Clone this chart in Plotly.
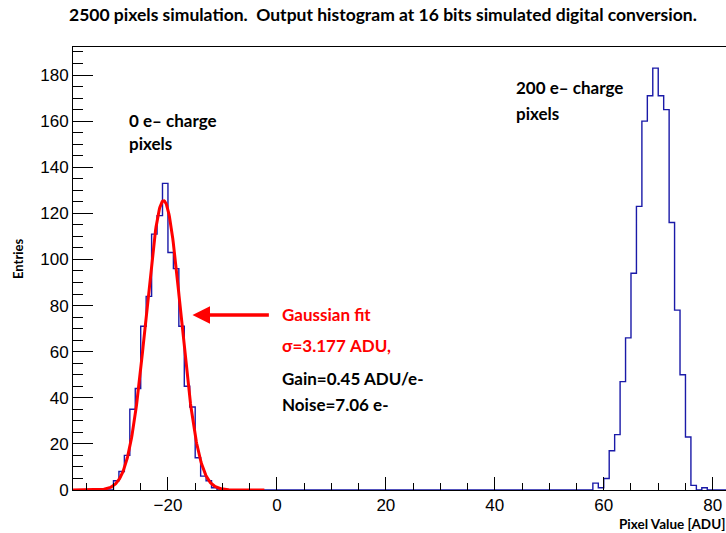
import numpy as np
import plotly.graph_objects as go

# ---------------- data ----------------
title_text = "2500 pixels simulation.  Output histogram at 16 bits simulated digital conversion."
x_title = "Pixel Value [ADU]"
y_title = "Entries"

hist_low_edge = -38          # histogram bins of 1 ADU
hist_high_edge = 83

zero_peak_first_bin = -30    # 0 e- charge pixels
zero_peak_counts = [4, 8, 15, 35, 44, 71, 84, 111, 119, 133, 103, 96, 71, 45, 36, 14, 6, 4, 1]

charge_peak_first_bin = 58   # 200 e- charge pixels
charge_peak_counts = [3, 1, 5, 17, 24, 47, 66, 94, 123, 160, 171, 183, 171, 165, 116, 78, 50, 23, 2, 0, 1]

fit_amplitude = 125.5
fit_mean = -20.8
fit_sigma = 3.177
fit_range = [-37.43, -2.3]

x_range = [-37.43, 82.44]
y_range = [0, 192.15]

# ---------------- build histogram ----------------
edges = np.arange(hist_low_edge, hist_high_edge + 1)
counts = np.zeros(len(edges) - 1)
for first, vals in ((zero_peak_first_bin, zero_peak_counts), (charge_peak_first_bin, charge_peak_counts)):
    for i, v in enumerate(vals):
        counts[first + i - hist_low_edge] = v

step_x = list(edges)
step_y = list(counts) + [counts[-1]]

fx = np.linspace(fit_range[0], fit_range[1], 400)
fy = fit_amplitude * np.exp(-0.5 * ((fx - fit_mean) / fit_sigma) ** 2)

fig = go.Figure()
fig.add_trace(go.Scatter(x=step_x, y=step_y, mode="lines", line=dict(shape="hv", color="#1a1aa8", width=1.4),
                         hoverinfo="skip", showlegend=False))
fig.add_trace(go.Scatter(x=fx, y=fy, mode="lines", line=dict(color="#ff0000", width=3),
                         hoverinfo="skip", showlegend=False))

# ---------------- layout ----------------
L, R, T, B = 73, 0, 47, 43
W, H = 726, 533
tick_font = dict(family="Liberation Sans, Arial, sans-serif", size=17, color="black")
bold_font = "Lato, sans-serif"

fig.update_layout(
    width=W, height=H, margin=dict(l=L, r=R, t=T, b=B),
    paper_bgcolor="white", plot_bgcolor="white", showlegend=False,
)
fig.update_xaxes(range=x_range, tickmode="linear", tick0=0, dtick=20,
                 ticks="inside", ticklen=13, tickcolor="black", tickwidth=1,
                 minor=dict(ticks="inside", ticklen=7, dtick=5, tick0=0, tickcolor="black"),
                 showgrid=False, zeroline=False, showline=True, linecolor="black", linewidth=1,
                 mirror=True, tickfont=tick_font)
fig.update_yaxes(range=y_range, tickmode="linear", tick0=0, dtick=20,
                 ticks="inside", ticklen=20, tickcolor="black", tickwidth=1,
                 minor=dict(ticks="inside", ticklen=10, dtick=5, tick0=0, tickcolor="black"),
                 showgrid=False, zeroline=False, showline=True, linecolor="black", linewidth=1,
                 mirror=False, tickfont=tick_font)

def px_to_paper(px, py):
    return (px - L) / (W - L - R), (H - B - py) / (H - T - B)

def add_text(text, px, py, size=17, color="black", xanchor="left", **kw):
    xp, yp = px_to_paper(px, py)
    fig.add_annotation(text=text, x=xp, y=yp, xref="paper", yref="paper", showarrow=False,
                       xanchor=xanchor, yanchor="middle", borderpad=0,
                       font=dict(family=bold_font, size=size, color=color, weight="bold"), **kw)

add_text(title_text, 383, 15, size=17.5, xanchor="center")
add_text(y_title, 18, 259, size=13, xanchor="center", textangle=-90)
add_text(x_title, 726, 524, size=13.5, xanchor="right")

add_text("0 e\u2013 charge", 128, 120)
add_text("pixels", 128, 143)
add_text("200 e\u2013 charge", 515, 88)
add_text("pixels", 515, 113)
add_text("Gaussian fit", 281, 314, color="#ff0000")
add_text("\u03c3=3.177 ADU,", 281, 345, color="#ff0000")
add_text("Gain=0.45 ADU/e-", 281, 378)
add_text("Noise=7.06 e-", 281, 404)

# arrow pointing at the fit
fig.add_annotation(x=-15.5, y=75.9, ax=-1.2, ay=75.9, xref="x", yref="y", axref="x", ayref="y",
                   text="", showarrow=True, arrowhead=2, arrowsize=1, arrowwidth=3.5, arrowcolor="#ff0000")

fig.write_html("out.html")
